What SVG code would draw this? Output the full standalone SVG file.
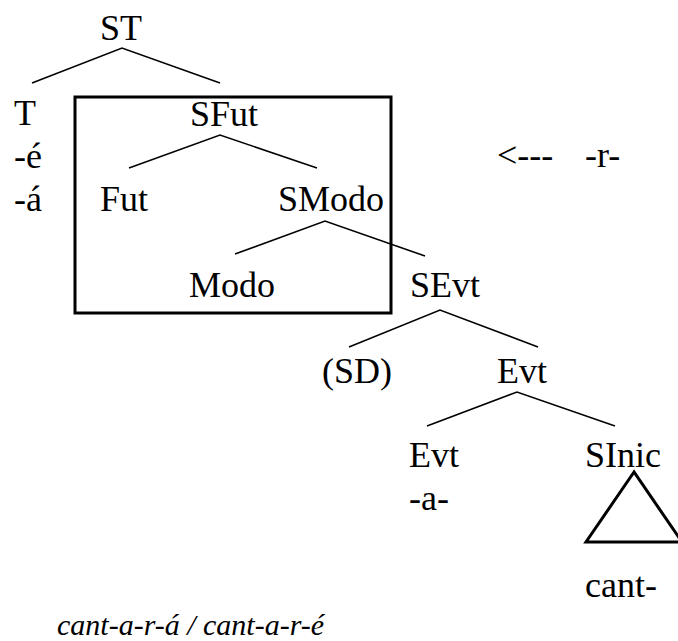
<svg xmlns="http://www.w3.org/2000/svg" width="678" height="641" viewBox="0 0 678 641">
  <style>
    text { font-family: "Liberation Serif", "Times New Roman", serif; font-size: 36px; fill: #000; }
    .it { font-style: italic; font-size: 30px; }
    .edge { stroke: #000; stroke-width: 1.6; fill: none; }
    .frame { stroke: #000; stroke-width: 3; fill: none; }
  </style>
  <rect width="678" height="641" fill="#fff"/>

  <!-- tree branches -->
  <g id="connectors">
    <polyline class="edge" points="32,83 122,48 220,83"/>
    <polyline class="edge" points="129,168 220,135 317,168"/>
    <polyline class="edge" points="235,254 325,221 425,256"/>
    <polyline class="edge" points="349,347 440,310 538,347"/>
    <polyline class="edge" points="427,426 517,392 615,426"/>
  </g>

  <!-- box round the SFut projection -->
  <rect id="box" class="frame" x="75" y="97" width="316" height="216"/>

  <g id="ST"><text x="100" y="40">ST</text></g>
  <g id="T">
    <text x="14" y="125">T</text>
    <text x="14" y="168">-é</text>
    <text x="14" y="211">-á</text>
  </g>
  <g id="SFut"><text x="190" y="126">SFut</text></g>
  <g id="Fut"><text x="100" y="211">Fut</text></g>
  <g id="SModo"><text x="278" y="211">SModo</text></g>
  <g id="Modo"><text x="189" y="297">Modo</text></g>
  <g id="SEvt"><text x="410" y="297">SEvt</text></g>
  <g id="SD"><text x="322" y="383">(SD)</text></g>
  <g id="EvtBar"><text x="497" y="383">Evt</text></g>
  <g id="Evt">
    <text x="409" y="467">Evt</text>
    <text x="409" y="510">-a-</text>
  </g>
  <g id="SInic">
    <text x="585" y="467">SInic</text>
    <polygon class="frame" points="634,472 586,542 682,542"/>
    <text x="585" y="597">cant-</text>
  </g>
  <g id="r-note">
    <text x="497" y="167">&lt;---</text>
    <text x="585" y="167">-r-</text>
  </g>
  <g id="gloss"><text class="it" x="57" y="635">cant-a-r-á / cant-a-r-é</text></g>
</svg>
